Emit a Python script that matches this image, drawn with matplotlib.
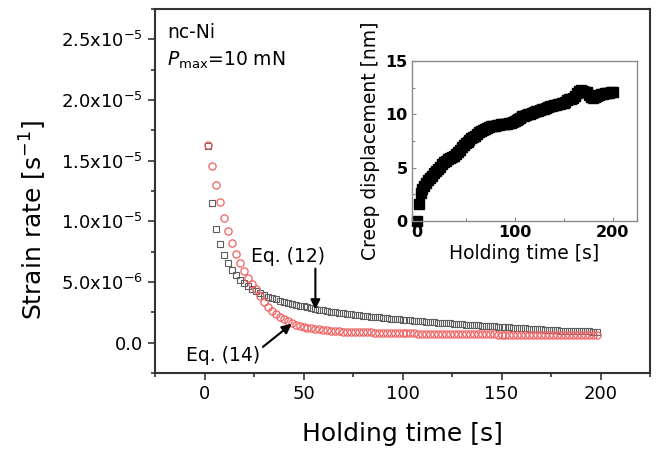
import matplotlib
matplotlib.use("Agg")
import matplotlib.pyplot as plt
from matplotlib.ticker import FixedLocator, MultipleLocator

plt.rcParams['font.family'] = ['DejaVu Sans']
plt.rcParams['mathtext.fontset'] = 'dejavusans'
plt.rcParams['axes.unicode_minus'] = False

# ---------------- data ----------------
time_s = [2, 4, 6, 8, 10, 12, 14, 16, 18, 20, 22, 24, 26, 28, 30, 32, 34, 36, 38, 40,
          42, 44, 46, 48, 50, 52, 54, 56, 58, 60, 62, 64, 66, 68, 70, 72, 74, 76, 78, 80,
          82, 84, 86, 88, 90, 92, 94, 96, 98, 100, 102, 104, 106, 108, 110, 112, 114, 116, 118, 120,
          122, 124, 126, 128, 130, 132, 134, 136, 138, 140, 142, 144, 146, 148, 150, 152, 154, 156, 158, 160,
          162, 164, 166, 168, 170, 172, 174, 176, 178, 180, 182, 184, 186, 188, 190, 192, 194, 196, 198]

# Eq. (12) - grey squares, strain rate in 1e-6 s^-1
eq12_rate = [16.2, 11.5, 9.4, 8.1, 7.2, 6.55, 6.0, 5.55, 5.2, 4.9,
             4.65, 4.45, 4.25, 4.08, 3.93, 3.8, 3.68, 3.57, 3.47, 3.38,
             3.29, 3.21, 3.13, 3.06, 2.99, 2.92, 2.85, 2.79, 2.73, 2.67,
             2.61, 2.56, 2.51, 2.46, 2.41, 2.37, 2.33, 2.29, 2.25, 2.21,
             2.17, 2.14, 2.11, 2.08, 2.05, 2.02, 1.99, 1.96, 1.93, 1.9,
             1.87, 1.84, 1.81, 1.78, 1.75, 1.72, 1.7, 1.68, 1.66, 1.64,
             1.62, 1.59, 1.56, 1.53, 1.5, 1.48, 1.46, 1.44, 1.42, 1.4,
             1.38, 1.36, 1.34, 1.32, 1.3, 1.28, 1.26, 1.24, 1.22, 1.2,
             1.18, 1.16, 1.14, 1.12, 1.1, 1.08, 1.06, 1.04, 1.02, 1.0,
             0.99, 0.98, 0.97, 0.96, 0.95, 0.94, 0.93, 0.92, 0.91]

# Eq. (14) - red circles, strain rate in 1e-6 s^-1
eq14_rate = [16.3, 14.6, 13.0, 11.6, 10.3, 9.2, 8.2, 7.3, 6.55, 5.9,
             5.3, 4.85, 4.4, 3.85, 3.35, 2.95, 2.65, 2.38, 2.15, 1.95,
             1.75, 1.58, 1.46, 1.37, 1.3, 1.24, 1.18, 1.13, 1.09, 1.05,
             1.02, 0.99, 0.96, 0.94, 0.92, 0.9, 0.89, 0.88, 0.87, 0.86,
             0.85, 0.84, 0.83, 0.82, 0.81, 0.8, 0.79, 0.785, 0.78, 0.775,
             0.77, 0.765, 0.76, 0.755, 0.75, 0.745, 0.74, 0.735, 0.73, 0.725,
             0.72, 0.715, 0.71, 0.705, 0.7, 0.697, 0.694, 0.691, 0.688, 0.685,
             0.682, 0.679, 0.676, 0.673, 0.67, 0.667, 0.664, 0.661, 0.658, 0.655,
             0.652, 0.649, 0.646, 0.643, 0.64, 0.637, 0.634, 0.631, 0.628, 0.625,
             0.622, 0.619, 0.616, 0.613, 0.61, 0.607, 0.604, 0.601, 0.598]

# inset: creep displacement (nm) vs holding time (s)
inset_time = [0, 2, 4, 6, 8, 10, 12, 14, 16, 18, 20, 22, 24, 26, 28, 30, 32, 34, 36, 38,
              40, 42, 44, 46, 48, 50, 52, 54, 56, 58, 60, 62, 64, 66, 68, 70, 72, 74, 76, 78,
              80, 82, 84, 86, 88, 90, 92, 94, 96, 98, 100, 102, 104, 106, 108, 110, 112, 114, 116, 118,
              120, 122, 124, 126, 128, 130, 132, 134, 136, 138, 140, 142, 144, 146, 148, 150, 152, 154, 156, 158,
              160, 162, 164, 166, 168, 170, 172, 174, 176, 178, 180, 182, 184, 186, 188, 190, 192, 194, 196, 198, 200]
inset_disp = [0.0, 1.6, 2.6, 3.0, 3.3, 3.6, 3.8, 4.0, 4.2, 4.5,
              4.7, 4.9, 5.1, 5.3, 5.5, 5.6, 5.8, 5.9, 6.0, 6.1,
              6.3, 6.5, 6.7, 6.9, 7.1, 7.3, 7.4, 7.6, 7.8, 7.9,
              8.0, 8.2, 8.3, 8.4, 8.5, 8.6, 8.7, 8.8, 8.9, 8.9,
              8.95, 9.0, 9.0, 9.05, 9.1, 9.1, 9.1, 9.15, 9.2, 9.3,
              9.4, 9.5, 9.6, 9.7, 9.8, 9.8, 9.9, 10.0, 10.0, 10.1,
              10.2, 10.3, 10.3, 10.4, 10.5, 10.5, 10.6, 10.7, 10.8, 10.8,
              10.9, 10.9, 11.0, 11.0, 11.1, 11.1, 11.2, 11.3, 11.4, 11.4,
              11.5, 11.7, 12.0, 12.2, 12.3, 12.2, 12.1, 12.1, 11.8, 11.6,
              11.5, 11.6, 11.7, 11.8, 11.9, 11.9, 12.0, 12.0, 12.0, 12.1, 12.1]

x_ticks = [0, 50, 100, 150, 200]
y_ticks = [0.0, 5.0e-6, 1.0e-5, 1.5e-5, 2.0e-5, 2.5e-5]
y_tick_labels = ['0.0', r'5.0x10$^{-6}$', r'1.0x10$^{-5}$', r'1.5x10$^{-5}$',
                 r'2.0x10$^{-5}$', r'2.5x10$^{-5}$']
inset_x_ticks = [0, 100, 200]
inset_y_ticks = [0, 5, 10, 15]

# ---------------- figure ----------------
fig = plt.figure(figsize=(6.62, 4.53), dpi=100)
ax = fig.add_axes([155/662, 1 - 373/453, (650 - 155)/662, (373 - 9)/453])

t = time_s
r12 = [v * 1e-6 for v in eq12_rate]
r14 = [v * 1e-6 for v in eq14_rate]
ax.plot(t, r12, linestyle='none', marker='s', markersize=4.4, markerfacecolor='none',
        markeredgecolor='#5e5e5e', markeredgewidth=0.8)
ax.plot(t, r14, linestyle='none', marker='o', markersize=5.2, markerfacecolor='none',
        markeredgecolor='#f06060', markeredgewidth=0.9)

ax.set_xlim(-25, 225)
ax.set_ylim(-2.5e-6, 2.75e-5)
ax.xaxis.set_major_locator(FixedLocator(x_ticks))
ax.xaxis.set_minor_locator(MultipleLocator(25))
ax.yaxis.set_major_locator(FixedLocator(y_ticks))
ax.set_yticklabels(y_tick_labels)
ax.yaxis.set_minor_locator(MultipleLocator(2.5e-6))
ax.tick_params(which='both', direction='out', top=False, right=False, labelsize=13,
               color='#333333', width=1.2)
ax.tick_params(which='major', length=5)
ax.tick_params(which='minor', length=3)
for s in ax.spines.values():
    s.set_linewidth(1.5)
    s.set_color('#333333')

ax.set_xlabel('Holding time [s]', fontsize=18)
ax.xaxis.set_label_coords(0.5, -0.135)
ax.set_ylabel(r'Strain rate [s$^{-1}$]', fontsize=18)
ax.yaxis.set_label_coords(-0.215, 0.42)

ax.text(0.025, 0.935, 'nc-Ni', transform=ax.transAxes, fontsize=13.5, va='center', ha='left')
ax.text(0.025, 0.86, r'$P_{\rm max}$=10 mN', transform=ax.transAxes, fontsize=13.5,
        va='center', ha='left')

arrow_style = dict(arrowstyle='-|>', color='black', lw=1.5, mutation_scale=14,
                   shrinkA=0, shrinkB=0)
ax.text(42, 7.1e-6, 'Eq. (12)', fontsize=13.5, ha='center', va='center')
ax.annotate('', xy=(56, 2.75e-6), xytext=(56, 6.1e-6), arrowprops=arrow_style)
ax.text(9.5, -1.05e-6, 'Eq. (14)', fontsize=13.5, ha='center', va='center')
ax.annotate('', xy=(44, 1.55e-6), xytext=(29.5, -0.35e-6), arrowprops=arrow_style)

# ---------------- inset ----------------
ins = fig.add_axes([411.7/662, 1 - 221/453, (637 - 411.7)/662, (221 - 61)/453])
ins.plot(inset_time, inset_disp, linestyle='none', marker='s', markersize=6.5,
         color='black', clip_on=False)
ins.set_xlim(-5, 225)
ins.set_ylim(0, 15)
ins.xaxis.set_major_locator(FixedLocator(inset_x_ticks))
ins.xaxis.set_minor_locator(MultipleLocator(50))
ins.yaxis.set_major_locator(FixedLocator(inset_y_ticks))
ins.yaxis.set_minor_locator(MultipleLocator(2.5))
ins.tick_params(which='both', direction='in', top=False, right=False, labelsize=11.5,
                color='#888888', width=0.8, pad=3)
ins.tick_params(which='major', length=3)
ins.tick_params(which='minor', length=2)
for lab in ins.get_xticklabels() + ins.get_yticklabels():
    lab.set_fontweight('bold')
for s in ins.spines.values():
    s.set_linewidth(1.0)
    s.set_color('#8a8a8a')
ins.set_xlabel('Holding time [s]', fontsize=13.5, labelpad=3)
ins.set_ylabel('Creep displacement [nm]', fontsize=13.5, labelpad=4)

fig.savefig('out.png', dpi=100)
